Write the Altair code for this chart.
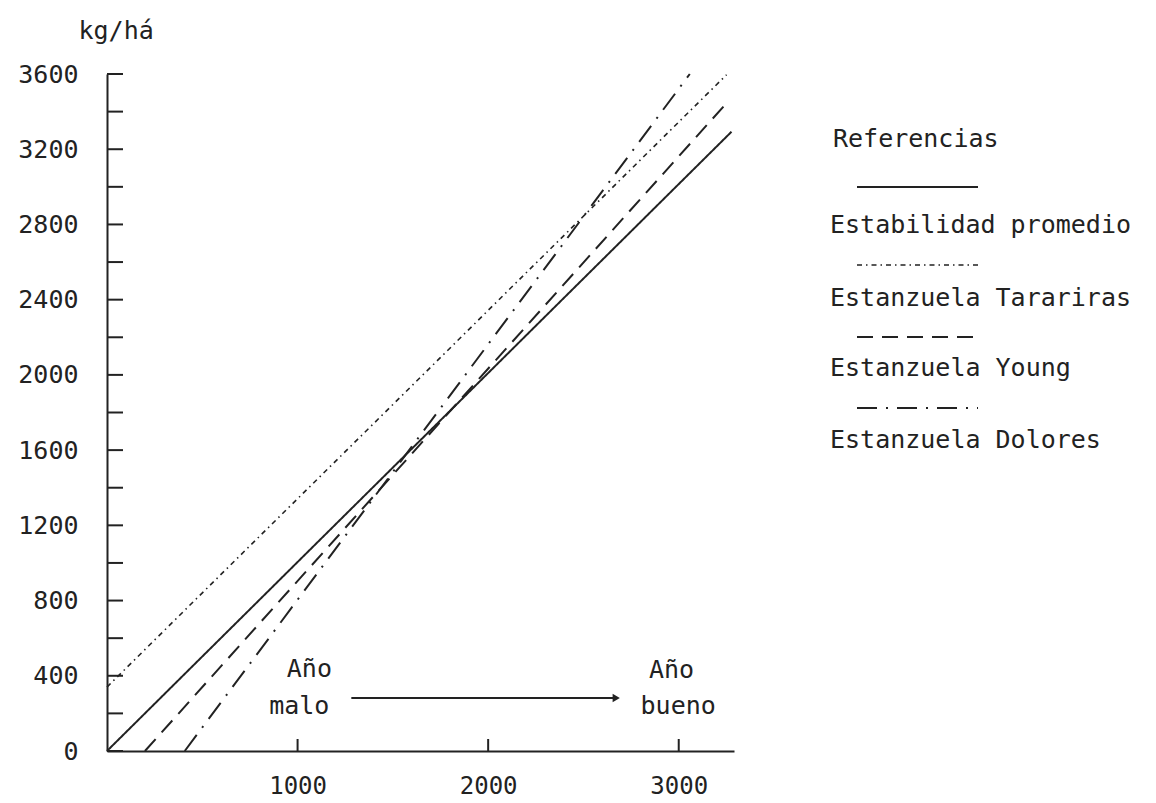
import altair as alt
import pandas as pd

# ---- data ----
series = ["Estabilidad promedio", "Estanzuela Tarariras", "Estanzuela Young", "Estanzuela Dolores"]
x_start = [0, 0, 199, 408]
y_start = [0, 340, 0, 0]
x_end = [3277, 3251, 3257, 3058]
y_end = [3293, 3596, 3452, 3600]

y_label_values = [0, 400, 800, 1200, 1600, 2000, 2400, 2800, 3200, 3600]
y_tick_values = [0, 200, 400, 600, 800, 1000, 1200, 1400, 1600, 1800, 2000, 2200,
                 2400, 2600, 2800, 3000, 3200, 3400, 3600]
x_label_values = [1000, 2000, 3000]

ann_text = ["Año", "malo", "Año", "bueno"]
ann_x = [1062, 1009, 2962, 2997]
ann_y = [436, 239, 431, 239]
arrow_x = [1282, 2672]
arrow_y = [282, 282]

# ---- styles ----
dashes = [[1, 0], [5, 4, 1.5, 4], [16, 9], [20, 9, 2, 9]]
widths = [2, 1.6, 2, 2]
FONT = "DejaVu Sans Mono"
FS = 25
INK = "#222222"
W, H = 627, 677

xs = alt.Scale(domain=[0, 3290], nice=False, zero=False)
ys = alt.Scale(domain=[0, 3600], nice=False)
xaxis = alt.Axis(values=x_label_values, ticks=False, grid=False, labelPadding=23,
                 format="d", labelFontSize=24, title=None)
yaxis = alt.Axis(values=y_label_values, ticks=False, grid=False, labelPadding=29,
                 format="d",
                 title="kg/há", titleAngle=0, titleAlign="left", titleBaseline="middle",
                 titleX=-29, titleY=-44, titleFont=FONT, titleFontSize=FS,
                 titleFontWeight="normal", titleColor=INK)

layers = []

# series lines
for i, name in enumerate(series):
    df = pd.DataFrame({"x": [x_start[i], x_end[i]], "y": [y_start[i], y_end[i]]})
    layers.append(
        alt.Chart(df).mark_line(color=INK, strokeDash=dashes[i], strokeWidth=widths[i])
        .encode(x=alt.X("x:Q", scale=xs, axis=xaxis),
                y=alt.Y("y:Q", scale=ys, axis=yaxis))
    )

# inward ticks
layers.append(
    alt.Chart(pd.DataFrame({"y": y_tick_values})).mark_rule(color=INK, strokeWidth=2)
    .encode(y=alt.Y("y:Q", scale=ys, axis=yaxis), x=alt.value(0), x2=alt.value(16))
)
layers.append(
    alt.Chart(pd.DataFrame({"x": x_label_values})).mark_rule(color=INK, strokeWidth=2)
    .encode(x=alt.X("x:Q", scale=xs, axis=xaxis), y=alt.value(H), y2=alt.value(H - 12))
)

# annotation
layers.append(
    alt.Chart(pd.DataFrame({"x": ann_x, "y": ann_y, "t": ann_text}))
    .mark_text(font=FONT, fontSize=FS, color=INK, align="center", baseline="middle")
    .encode(x=alt.X("x:Q", scale=xs, axis=xaxis), y=alt.Y("y:Q", scale=ys, axis=yaxis),
            text="t:N")
)
layers.append(
    alt.Chart(pd.DataFrame({"x": [arrow_x[0]], "x2": [arrow_x[1]], "y": [arrow_y[0]]}))
    .mark_rule(color=INK, strokeWidth=2)
    .encode(x=alt.X("x:Q", scale=xs, axis=xaxis), x2="x2:Q",
            y=alt.Y("y:Q", scale=ys, axis=yaxis))
)
layers.append(
    alt.Chart(pd.DataFrame({"x": [arrow_x[1]], "y": [arrow_y[1]]}))
    .mark_point(shape="triangle-right", size=70, filled=True, color=INK, opacity=1)
    .encode(x=alt.X("x:Q", scale=xs, axis=xaxis), y=alt.Y("y:Q", scale=ys, axis=yaxis))
)

# custom legend (line sample above each label)
legend_line_y = [113, 191, 263, 334]
legend_text_y = [151, 224, 294, 366]
layers.append(
    alt.Chart(pd.DataFrame({"t": ["Referencias"]}))
    .mark_text(font=FONT, fontSize=FS, color=INK, align="left", baseline="middle")
    .encode(text="t:N", x=alt.value(726), y=alt.value(65))
)
for i, name in enumerate(series):
    layers.append(
        alt.Chart(pd.DataFrame({"t": [name]}))
        .mark_rule(color=INK, strokeDash=dashes[i], strokeWidth=widths[i])
        .encode(x=alt.value(750), x2=alt.value(871), y=alt.value(legend_line_y[i]))
    )
    layers.append(
        alt.Chart(pd.DataFrame({"t": [name]}))
        .mark_text(font=FONT, fontSize=FS, color=INK, align="left", baseline="middle")
        .encode(text="t:N", x=alt.value(723), y=alt.value(legend_text_y[i]))
    )

chart = (
    alt.layer(*layers)
    .properties(width=W, height=H,
                autosize=alt.AutoSizeParams(type="none"),
                padding={"left": 99, "top": 66, "right": 414, "bottom": 48},
                background="white")
    .configure_view(stroke=None)
    .configure_axis(domainColor=INK, domainWidth=2, labelFont=FONT, labelFontSize=FS,
                    labelColor=INK)
)

chart.save("out.html", embed_options={"renderer": "svg", "actions": False})
